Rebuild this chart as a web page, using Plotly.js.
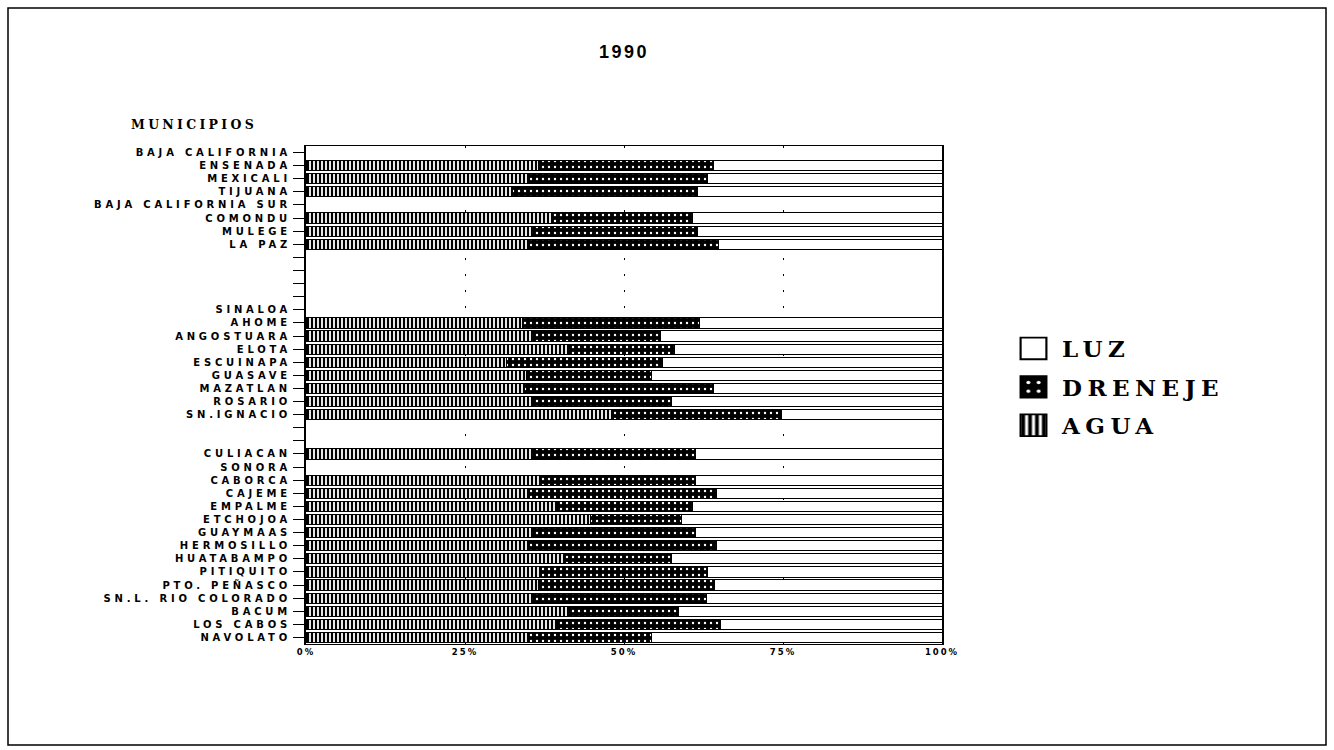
<!DOCTYPE html>
<html>
<head>
<meta charset="utf-8">
<script src="https://cdn.plot.ly/plotly-3.0.1.min.js"></script>
<style>
  body { margin: 0; background: #fff; }
  #chart { width: 1334px; height: 750px; }
  .ytick text { letter-spacing: 3.8px; }
  .xtick text { letter-spacing: 2px; }
  .legendtext { letter-spacing: 5.5px; }
  .annotation-text { letter-spacing: 3.3px; }
  .gtitle { letter-spacing: 2.5px; }
</style>
</head>
<body>
<div id="chart"></div>
<script>
const categories = ["BAJA CALIFORNIA","ENSENADA","MEXICALI","TIJUANA","BAJA CALIFORNIA SUR","COMONDU","MULEGE","LA PAZ",
  " ","  ","   ","    ",
  "SINALOA","AHOME","ANGOSTUARA","ELOTA","ESCUINAPA","GUASAVE","MAZATLAN","ROSARIO","SN.IGNACIO",
  "     ","      ",
  "CULIACAN","SONORA","CABORCA","CAJEME","EMPALME","ETCHOJOA","GUAYMAAS","HERMOSILLO","HUATABAMPO",
  "PITIQUITO","PTO. PEÑASCO","SN.L. RIO COLORADO","BACUM","LOS CABOS","NAVOLATO"];

const agua = [null,36.5,35.2,32.4,null,38.7,35.4,35.2,
  null,null,null,null,
  null,34.1,35.4,41.2,31.6,34.7,34.3,35.7,48.3,
  null,null,
  35.5,null,36.8,35.2,39.5,44.8,35.4,35.2,40.6,
  37.1,36.6,35.4,41.5,39.6,34.9];

const dreneje = [null,27.5,27.9,29.2,null,22.1,26.2,29.7,
  null,null,null,null,
  null,27.8,20.3,16.8,24.5,19.7,29.7,21.8,26.5,
  null,null,
  25.8,null,24.4,29.4,21.3,14.2,25.8,29.4,16.8,
  26.0,27.7,27.5,17.0,25.5,19.5];

const luz = [null,36.0,36.9,38.4,null,39.2,38.4,35.1,
  null,null,null,null,
  null,38.1,44.3,42.0,43.9,45.6,36.0,42.5,25.2,
  null,null,
  38.7,null,38.8,35.4,39.2,41.0,38.8,35.4,42.6,
  36.9,35.7,37.1,41.5,34.9,45.6];

const xTickVals = [0,25,50,75,100];
const xTickText = ["0%","25%","50%","75%","100%"];

const outline = {color:"#000", width:1};

const traces = [
  {
    type:"bar", orientation:"h", name:"AGUA", y:categories, x:agua, legendrank:3, legendgroup:"g3",
    marker:{color:"#fff", line:outline,
      pattern:{shape:"|", fillmode:"replace", bgcolor:"#fff", fgcolor:"#000", size:4, solidity:0.55}},
    hoverinfo:"skip"
  },
  {
    type:"bar", orientation:"h", name:"DRENEJE", y:categories, x:dreneje, legendrank:2, legendgroup:"g2",
    marker:{color:"#000", line:outline,
      pattern:{shape:".", fillmode:"replace", bgcolor:"#000", fgcolor:"#fff", size:6, solidity:0.12}},
    hoverinfo:"skip"
  },
  {
    type:"bar", orientation:"h", name:"LUZ", y:categories, x:luz, legendrank:1, legendgroup:"g1",
    marker:{color:"#fff", line:outline},
    hoverinfo:"skip"
  }
];

const layout = {
  width:1334, height:750,
  margin:{l:306, r:392, t:146, b:106, pad:0},
  paper_bgcolor:"#fff", plot_bgcolor:"#fff",
  barmode:"stack", bargap:0.22,
  showlegend:true,
  title:{text:"<b>1990</b>", x:0.5, xref:"paper", y:1-52/750, yanchor:"middle",
    font:{family:"Liberation Sans, Arial, sans-serif", size:18, color:"#000"}},
  xaxis:{
    range:[0,100], tickvals:xTickVals, ticktext:xTickText, ticks:"",
    showline:true, mirror:true, linecolor:"#000", linewidth:1,
    showgrid:true, gridcolor:"#000", gridwidth:1, griddash:"2px,14px",
    zeroline:false, fixedrange:true,
    tickfont:{family:"DejaVu Sans, sans-serif", size:8.5, color:"#000", weight:"bold"}
  },
  yaxis:{
    type:"category", categoryorder:"array", categoryarray:categories, autorange:"reversed",
    ticks:"outside", ticklen:11, tickwidth:1, tickcolor:"#000",
    showline:true, mirror:true, linecolor:"#000", linewidth:2,
    showgrid:false, zeroline:false, fixedrange:true,
    tickfont:{family:"DejaVu Sans, sans-serif", size:10, color:"#000", weight:"bold"}
  },
  legend:{
    x:(1005-306)/636, xanchor:"left", y:(644-327)/498, yanchor:"top",
    traceorder:"grouped", tracegroupgap:5.5,
    font:{family:"DejaVu Serif, serif", size:23, color:"#000", weight:"bold"},
    bgcolor:"rgba(0,0,0,0)", borderwidth:0, itemwidth:47
  },
  annotations:[
    {text:"<b>MUNICIPIOS</b>", xref:"paper", yref:"paper", x:(194-306)/636, y:(644-125)/498,
     xanchor:"center", yanchor:"middle", showarrow:false,
     font:{family:"DejaVu Serif, serif", size:12.5, color:"#000"}}
  ],
  shapes:[
    {type:"rect", xref:"paper", yref:"paper",
     x0:(8-306)/636, x1:(1326-306)/636, y0:(644-745)/498, y1:(644-8)/498,
     line:{color:"#000", width:1.5}, fillcolor:"rgba(0,0,0,0)", layer:"below"}
  ]
};

Plotly.newPlot("chart", traces, layout, {displayModeBar:false, staticPlot:true}).then(function(){
  document.querySelectorAll(".legend .legendpoints path").forEach(function(p){
    const t = p.getAttribute("transform") || "";
    p.setAttribute("transform", t + " scale(2.15,1.8)");
  });
});
</script>
</body>
</html>
